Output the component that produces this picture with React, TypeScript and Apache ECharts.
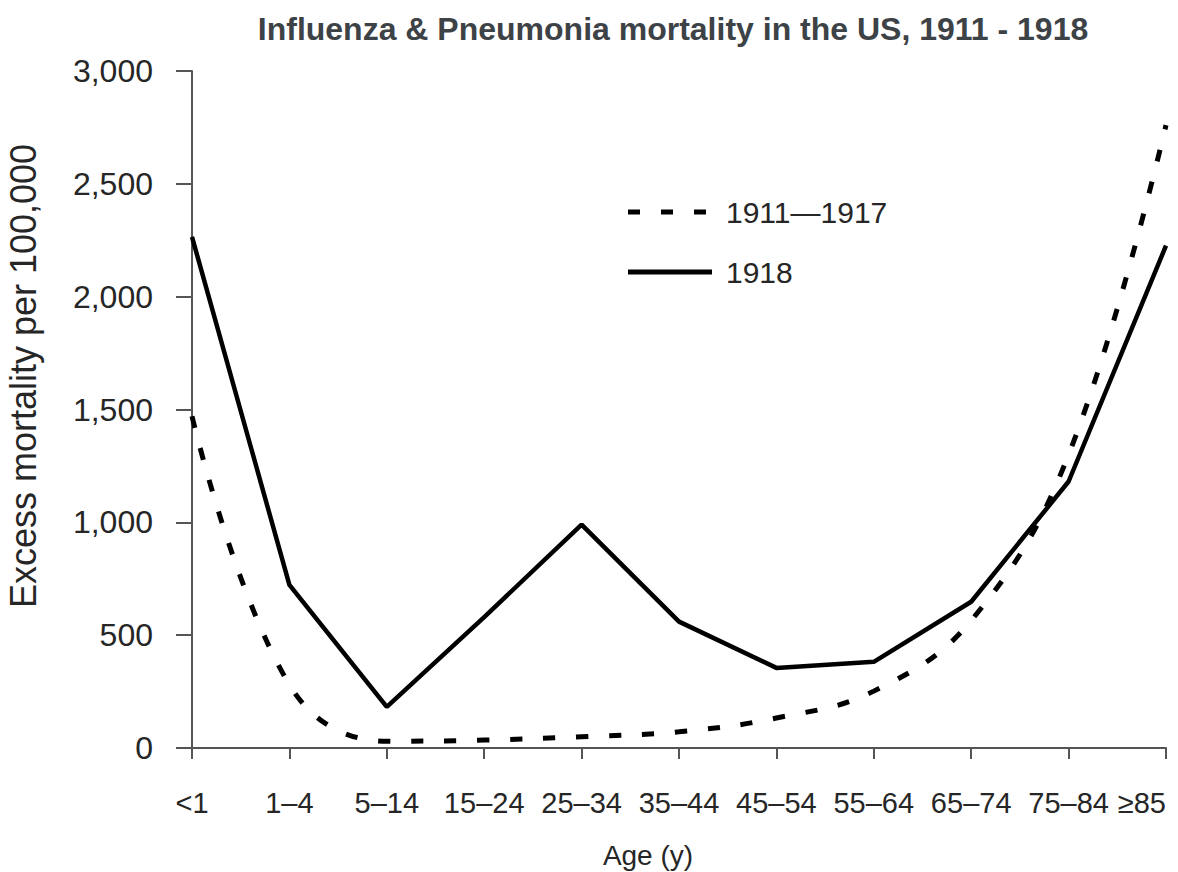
import React, { useEffect, useRef } from "react";
import * as echarts from "echarts";

const categories = ["<1", "1–4", "5–14", "15–24", "25–34", "35–44", "45–54", "55–64", "65–74", "75–84", "≥85"];
const mortality1911to1917 = [1470, 280, 30, 35, 50, 72, 133, 252, 565, 1300, 2760];
const mortality1918 = [2265, 723, 182, 580, 990, 560, 355, 382, 648, 1181, 2226];
const seriesNames = ["1911—1917", "1918"];
const yTicks = { min: 0, max: 3000, interval: 500 };

const FONT = "'Liberation Sans', Arial, Helvetica, sans-serif";
const TEXT = "#262626";
const DASH = [12, 21];

export default function App() {
  const ref = useRef<HTMLDivElement>(null);
  useEffect(() => {
    if (!ref.current) return;
    const chart = echarts.init(ref.current, undefined, { renderer: "svg" });
    chart.setOption({
      animation: false,
      backgroundColor: "#ffffff",
      title: {
        text: "Influenza & Pneumonia mortality in the US, 1911 - 1918",
        left: 668,
        top: 8,
        textAlign: "center",
        textStyle: { fontFamily: FONT, fontWeight: "bold", fontSize: 32, color: "#3d4247" },
      },
      grid: { left: 192, right: 12, top: 71, bottom: 124, containLabel: false },
      xAxis: {
        type: "category",
        data: categories,
        boundaryGap: false,
        axisLine: { lineStyle: { color: "#555", width: 2 } },
        axisTick: { show: true, length: 11, alignWithLabel: true, lineStyle: { color: "#555", width: 2 } },
        axisLabel: {
          fontFamily: FONT,
          fontSize: 29,
          color: TEXT,
          margin: 40,
          interval: 0,
          alignMaxLabel: "right",
        },
        splitLine: { show: false },
      },
      yAxis: {
        type: "value",
        min: yTicks.min,
        max: yTicks.max,
        interval: yTicks.interval,
        axisLine: { show: true, lineStyle: { color: "#555", width: 2 } },
        axisTick: { show: true, length: 16, lineStyle: { color: "#555", width: 2 } },
        axisLabel: {
          fontFamily: FONT,
          fontSize: 32,
          color: TEXT,
          margin: 39,
          formatter: (v: number) => v.toLocaleString("en-US"),
        },
        splitLine: { show: false },
      },
      graphic: [
        {
          type: "text",
          x: 23,
          y: 376,
          rotation: Math.PI / 2,
          style: {
            text: "Excess mortality per 100,000",
            fontFamily: FONT,
            fontSize: 36,
            fill: TEXT,
            align: "center",
            verticalAlign: "middle",
          },
        },
        {
          type: "text",
          x: 648,
          y: 855,
          style: {
            text: "Age (y)",
            fontFamily: FONT,
            fontSize: 28,
            fill: TEXT,
            align: "center",
            verticalAlign: "middle",
          },
        },
        {
          type: "line",
          shape: { x1: 628, y1: 212, x2: 710, y2: 212 },
          style: { stroke: "#000", lineWidth: 5, lineDash: DASH },
        },
        {
          type: "text",
          x: 726,
          y: 212,
          style: {
            text: seriesNames[0],
            fontFamily: FONT,
            fontSize: 30,
            fill: TEXT,
            align: "left",
            verticalAlign: "middle",
          },
        },
        {
          type: "line",
          shape: { x1: 628, y1: 272, x2: 712, y2: 272 },
          style: { stroke: "#000", lineWidth: 5 },
        },
        {
          type: "text",
          x: 726,
          y: 272,
          style: {
            text: seriesNames[1],
            fontFamily: FONT,
            fontSize: 30,
            fill: TEXT,
            align: "left",
            verticalAlign: "middle",
          },
        },
      ],
      series: [
        {
          name: seriesNames[0],
          type: "line",
          data: mortality1911to1917,
          smooth: 0.4,
          symbol: "none",
          lineStyle: { color: "#000", width: 5, type: DASH },
          itemStyle: { color: "#000" },
        },
        {
          name: seriesNames[1],
          type: "line",
          data: mortality1918,
          symbol: "none",
          lineStyle: { color: "#000", width: 4.5, type: "solid" },
          itemStyle: { color: "#000" },
        },
      ],
    });
    return () => chart.dispose();
  }, []);
  return <div ref={ref} style={{ width: 1178, height: 872, position: "absolute", left: 0, top: 0 }} />;
}
